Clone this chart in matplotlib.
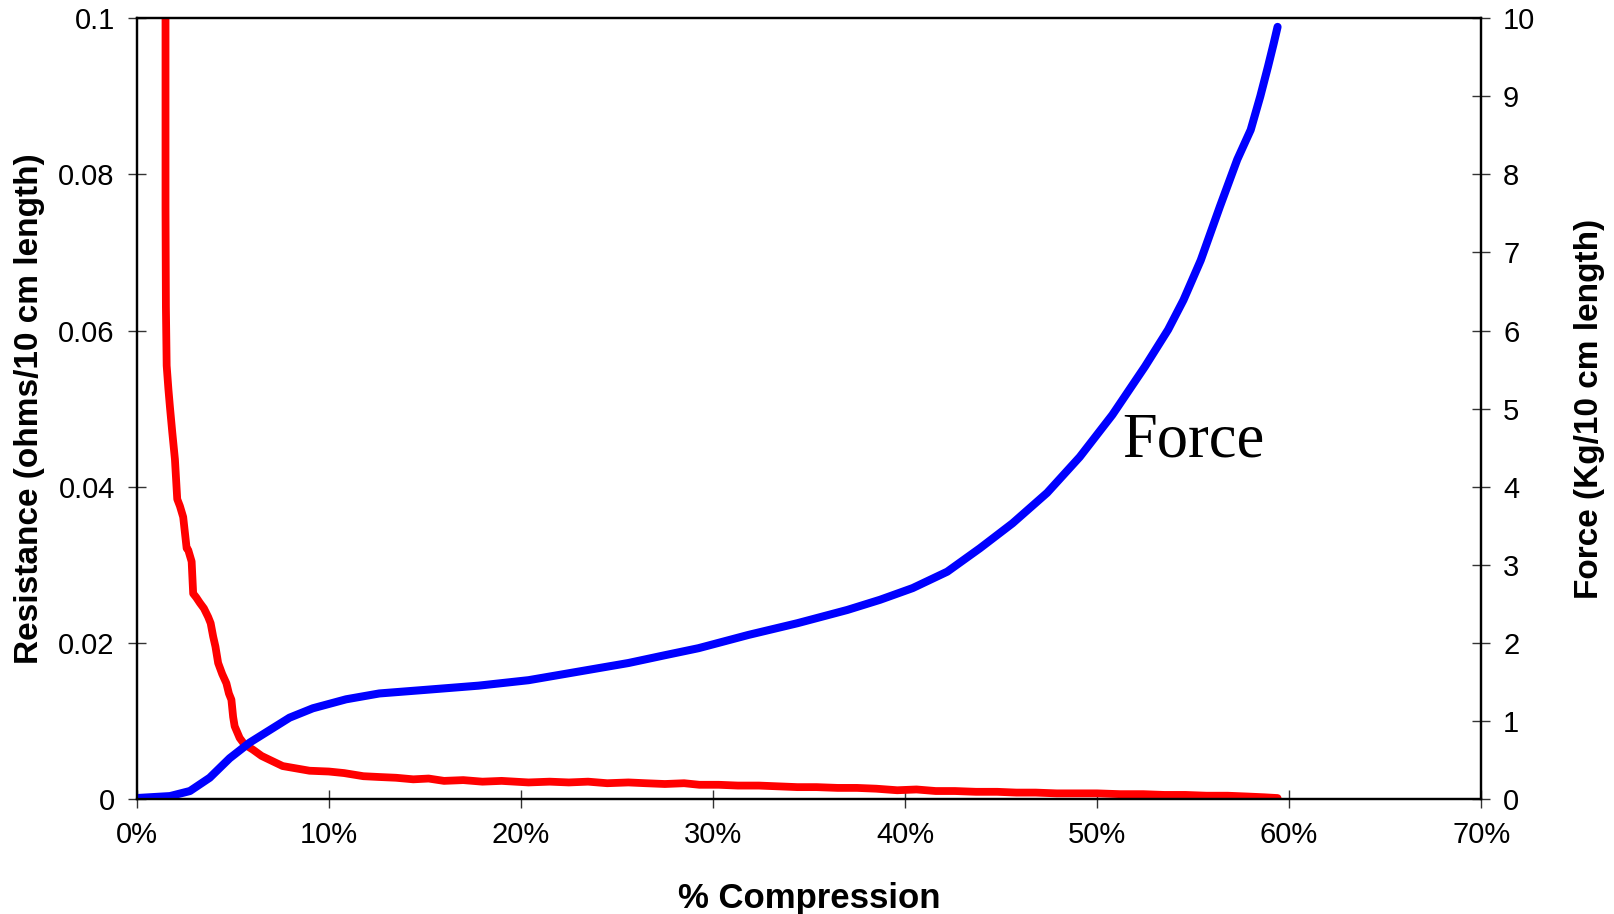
import numpy as np
import matplotlib
matplotlib.use('Agg')
import matplotlib.pyplot as plt

plt.rcParams['font.family'] = ['Liberation Sans', 'DejaVu Sans']

# Resistance curve (left axis), % compression vs ohms/10 cm
res_x = [1.5, 1.5, 1.5, 1.52, 1.56, 1.65, 1.73, 1.85, 1.99, 2.11, 2.25, 2.42, 2.6, 2.68,
         2.86, 2.94, 3.1, 3.29, 3.5, 3.72, 3.85, 3.98, 4.1, 4.24, 4.45, 4.67, 4.8, 4.93,
         5.02, 5.1, 5.36, 5.6, 6.05, 6.5, 7.09, 7.6, 8.3, 9.0, 10.0, 10.8, 11.8, 12.6,
         13.5, 14.4, 15.2, 16.0, 17.0, 18.0, 19.0, 20.4, 21.5, 22.5, 23.5, 24.5, 25.6,
         26.5, 27.5, 28.5, 29.3, 30.3, 31.3, 32.4, 33.4, 34.4, 35.4, 36.5, 37.5, 38.5,
         39.6, 40.6, 41.6, 42.6, 43.7, 44.8, 45.8, 46.8, 47.9, 49.0, 50.0, 51.2, 52.4,
         53.5, 54.6, 55.7, 56.8, 57.8, 58.7, 59.4]
res_y = [0.105, 0.100, 0.0757, 0.063, 0.0555, 0.0525, 0.0502, 0.047, 0.0435, 0.0384, 0.0375,
         0.0361, 0.0321, 0.0319, 0.0304, 0.0263, 0.0258, 0.0251, 0.0244, 0.0233, 0.0225,
         0.0208, 0.0195, 0.0174, 0.016, 0.0148, 0.0135, 0.0127, 0.0105, 0.0093, 0.0078,
         0.0070, 0.0063, 0.0055, 0.0048, 0.0042, 0.0039, 0.0036, 0.0035, 0.0033, 0.0029,
         0.0028, 0.0027, 0.0025, 0.0026, 0.0023, 0.0024, 0.0022, 0.0023, 0.0021, 0.0022,
         0.0021, 0.0022, 0.0020, 0.0021, 0.0020, 0.0019, 0.0020, 0.0018, 0.0018, 0.0017,
         0.0017, 0.0016, 0.0015, 0.0015, 0.0014, 0.0014, 0.0013, 0.0011, 0.0012, 0.0010,
         0.0010, 0.0009, 0.0009, 0.0008, 0.0008, 0.0007, 0.0007, 0.0007, 0.0006, 0.0006,
         0.0005, 0.0005, 0.0004, 0.0004, 0.0003, 0.0002, 0.0001]

# Force curve (right axis), % compression vs Kg/10 cm
force_x = [0.0, 1.73, 2.77, 3.8, 4.84, 5.88, 6.92, 7.96, 9.17, 10.9, 12.63, 15.23, 17.8,
           20.4, 23.0, 25.6, 27.5, 29.25, 31.85, 34.4, 37.0, 38.7, 40.4, 42.2, 43.9,
           45.6, 47.4, 49.1, 50.8, 52.5, 53.7, 54.5, 55.4, 56.4, 57.3, 58.0, 58.5,
           58.9, 59.2, 59.4]
force_y = [0.01, 0.035, 0.10, 0.27, 0.52, 0.72, 0.88, 1.04, 1.16, 1.275, 1.35, 1.40, 1.45,
           1.52, 1.63, 1.74, 1.84, 1.93, 2.10, 2.25, 2.42, 2.55, 2.70, 2.91, 3.21,
           3.53, 3.92, 4.38, 4.92, 5.54, 6.01, 6.39, 6.90, 7.59, 8.19, 8.57, 9.0,
           9.38, 9.68, 9.89]

x_ticks = [0, 10, 20, 30, 40, 50, 60, 70]
x_labels = ['0%', '10%', '20%', '30%', '40%', '50%', '60%', '70%']
res_ticks = [0, 0.02, 0.04, 0.06, 0.08, 0.1]
res_labels = ['0', '0.02', '0.04', '0.06', '0.08', '0.1']
force_ticks = list(range(0, 11))

fig = plt.figure(figsize=(16.14, 9.14), dpi=100)
ax1 = fig.add_axes([0.0847, 0.126, 0.833, 0.854])
ax2 = ax1.twinx()

ax1.plot(res_x, res_y, color='#FF0000', lw=5.6, solid_capstyle='round', solid_joinstyle='round')
ax2.plot(force_x, force_y, color='#0000FF', lw=5.8, solid_capstyle='round', solid_joinstyle='round')

ax1.set_xlim(0, 70)
ax1.set_ylim(0, 0.1)
ax2.set_ylim(0, 10)

ax1.set_xticks(x_ticks)
ax1.set_xticklabels(x_labels)
ax1.set_yticks(res_ticks)
ax1.set_yticklabels(res_labels)
ax2.set_yticks(force_ticks)

for ax in (ax1, ax2):
    ax.tick_params(direction='inout', length=13.5, width=1, labelsize=21, pad=9, color='#333333')
    for s in ax.spines.values():
        s.set_linewidth(1.6)
        s.set_color('black')

ax1.set_xlabel('% Compression', fontsize=25, fontweight='bold')
ax1.set_ylabel('Resistance (ohms/10 cm length)', fontsize=24, fontweight='bold')
ax2.set_ylabel('Force (Kg/10 cm length)', fontsize=24, fontweight='bold')
ax1.xaxis.set_label_coords(0.5005, -0.106)
ax1.yaxis.set_label_coords(-0.068, 0.5)
ax2.yaxis.set_label_coords(1.069, 0.5)

ax2.text(51.3, 4.38, 'Force', fontsize=45, family='Liberation Serif', va='baseline', ha='left')

fig.savefig('out.png', dpi=100)
